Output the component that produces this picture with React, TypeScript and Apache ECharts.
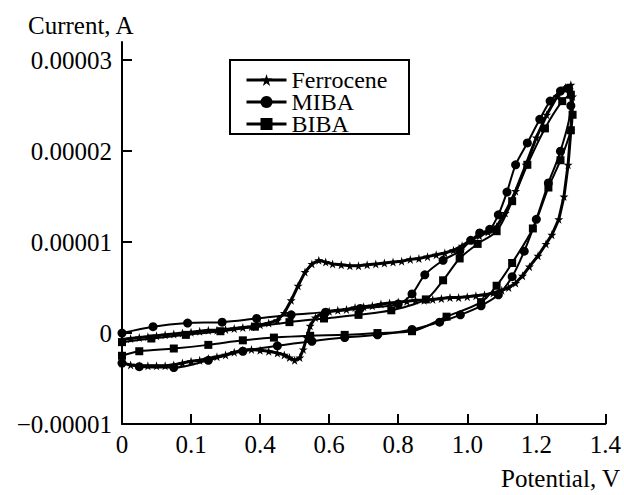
import React, { useEffect, useRef } from "react";
import * as echarts from "echarts";

// ---------- axis ticks ----------
const xTickValues = [0, 0.2, 0.4, 0.6, 0.8, 1.0, 1.2, 1.4];
const xTickLabels = ["0", "0.1", "0.4", "0.6", "0.8", "1.0", "1.2", "1.4"];
const yTickValues = [-1e-5, 0, 1e-5, 2e-5, 3e-5];
const yTickLabels = ["\u22120.00001", "0", "0.00001", "0.00002", "0.00003"];

const seriesNames = ["Ferrocene", "MIBA", "BIBA"];

// ---------- Ferrocene (potential V, current A) ----------
const ferrocenePotential = [
  0.0, 0.025, 0.05, 0.075, 0.1, 0.125, 0.15, 0.175, 0.2, 0.225, 0.25, 0.275, 0.3, 0.325, 0.35, 0.375,
  0.4, 0.425, 0.45, 0.47, 0.49, 0.51, 0.53, 0.55, 0.57, 0.59, 0.61, 0.635, 0.66, 0.685, 0.71, 0.735,
  0.76, 0.785, 0.81, 0.835, 0.86, 0.885, 0.91, 0.935, 0.96, 0.985, 1.01, 1.035, 1.06, 1.085, 1.11,
  1.14, 1.17, 1.2, 1.23, 1.26, 1.285, 1.3,
  1.305, 1.3, 1.292, 1.28, 1.265, 1.245, 1.228, 1.205, 1.18, 1.16, 1.14, 1.12, 1.1, 1.075, 1.05,
  1.025, 1.0, 0.975, 0.95, 0.925, 0.9, 0.875, 0.85, 0.825, 0.8, 0.775, 0.75, 0.725, 0.7, 0.675,
  0.65, 0.625, 0.6, 0.58, 0.56, 0.545, 0.535, 0.525, 0.515, 0.5, 0.485, 0.47, 0.45, 0.425, 0.4,
  0.375, 0.35, 0.325, 0.3, 0.275, 0.25, 0.225, 0.2, 0.175, 0.15, 0.125, 0.1, 0.075, 0.05, 0.025, 0.0,
];
const ferroceneCurrent = [
  -0.07e-5, -0.06e-5, -0.05e-5, -0.04e-5, -0.03e-5, -0.02e-5, -0.01e-5, 0.0, 0.01e-5, 0.02e-5,
  0.03e-5, 0.03e-5, 0.04e-5, 0.05e-5, 0.06e-5, 0.07e-5, 0.09e-5, 0.11e-5, 0.14e-5, 0.22e-5,
  0.36e-5, 0.52e-5, 0.67e-5, 0.76e-5, 0.8e-5, 0.78e-5, 0.76e-5, 0.75e-5, 0.74e-5, 0.74e-5,
  0.75e-5, 0.76e-5, 0.77e-5, 0.78e-5, 0.79e-5, 0.81e-5, 0.82e-5, 0.84e-5, 0.86e-5, 0.88e-5,
  0.91e-5, 0.96e-5, 1.02e-5, 1.07e-5, 1.11e-5, 1.17e-5, 1.32e-5, 1.56e-5, 1.85e-5, 2.15e-5,
  2.4e-5, 2.6e-5, 2.7e-5, 2.73e-5,
  2.6e-5, 2.23e-5, 1.85e-5, 1.5e-5, 1.25e-5, 1.08e-5, 0.98e-5, 0.85e-5, 0.73e-5, 0.63e-5,
  0.55e-5, 0.5e-5, 0.47e-5, 0.44e-5, 0.42e-5, 0.41e-5, 0.4e-5, 0.39e-5, 0.39e-5, 0.38e-5,
  0.37e-5, 0.36e-5, 0.36e-5, 0.35e-5, 0.34e-5, 0.33e-5, 0.32e-5, 0.3e-5, 0.29e-5, 0.28e-5,
  0.26e-5, 0.25e-5, 0.24e-5, 0.22e-5, 0.17e-5, 0.08e-5, -0.05e-5, -0.18e-5, -0.27e-5, -0.3e-5,
  -0.27e-5, -0.24e-5, -0.22e-5, -0.2e-5, -0.19e-5, -0.18e-5, -0.19e-5, -0.21e-5, -0.24e-5,
  -0.26e-5, -0.28e-5, -0.3e-5, -0.31e-5, -0.33e-5, -0.35e-5, -0.36e-5, -0.36e-5, -0.36e-5,
  -0.36e-5, -0.35e-5, -0.33e-5,
];

// ---------- MIBA ----------
const mibaPotential = [
  0.0, 0.09, 0.19, 0.29, 0.39, 0.49, 0.59, 0.69, 0.8, 0.84, 0.877, 0.93, 0.978, 1.01, 1.036, 1.065,
  1.09, 1.115, 1.14, 1.174, 1.21, 1.24, 1.27, 1.29,
  1.3, 1.27, 1.235, 1.2, 1.165, 1.13, 1.09, 1.04, 0.98, 0.92, 0.84, 0.74, 0.645, 0.55, 0.45, 0.35,
  0.25, 0.15, 0.05, 0.0,
];
const mibaCurrent = [
  0.0, 0.07e-5, 0.11e-5, 0.12e-5, 0.16e-5, 0.2e-5, 0.23e-5, 0.27e-5, 0.32e-5, 0.43e-5, 0.64e-5,
  0.8e-5, 0.9e-5, 1.02e-5, 1.1e-5, 1.14e-5, 1.3e-5, 1.55e-5, 1.85e-5, 2.09e-5, 2.35e-5, 2.55e-5,
  2.66e-5, 2.69e-5,
  2.5e-5, 2.0e-5, 1.65e-5, 1.25e-5, 0.9e-5, 0.62e-5, 0.42e-5, 0.3e-5, 0.2e-5, 0.12e-5, 0.04e-5,
  -0.02e-5, -0.05e-5, -0.09e-5, -0.14e-5, -0.2e-5, -0.3e-5, -0.38e-5, -0.37e-5, -0.33e-5,
];

// ---------- BIBA ----------
const bibaPotential = [
  0.0, 0.085, 0.185, 0.285, 0.385, 0.485, 0.585, 0.685, 0.78, 0.88, 0.93, 0.978, 1.03, 1.085, 1.13,
  1.174, 1.225, 1.275, 1.3,
  1.305, 1.3, 1.27, 1.235, 1.19, 1.13, 1.085, 1.04, 0.94, 0.84, 0.74, 0.645, 0.545, 0.44, 0.35, 0.25,
  0.15, 0.05, 0.0,
];
const bibaCurrent = [
  -0.1e-5, -0.06e-5, -0.02e-5, 0.02e-5, 0.07e-5, 0.12e-5, 0.16e-5, 0.2e-5, 0.25e-5, 0.37e-5,
  0.58e-5, 0.82e-5, 0.98e-5, 1.12e-5, 1.45e-5, 1.85e-5, 2.25e-5, 2.55e-5, 2.62e-5,
  2.4e-5, 2.23e-5, 1.9e-5, 1.6e-5, 1.15e-5, 0.77e-5, 0.52e-5, 0.34e-5, 0.18e-5, 0.02e-5, 0.0,
  -0.02e-5, -0.03e-5, -0.05e-5, -0.08e-5, -0.13e-5, -0.17e-5, -0.2e-5, -0.25e-5,
];

const STAR = "path://M50,0 L61,35 L98,35 L68,57 L79,91 L50,70 L21,91 L32,57 L2,35 L39,35 Z";
const FONT = "Liberation Serif, Times New Roman, serif";

export default function App() {
  const ref = useRef<HTMLDivElement>(null);
  useEffect(() => {
    const chart = echarts.init(ref.current as HTMLDivElement, null, { renderer: "svg" });
    const pairs = (xs: number[], ys: number[]) => xs.map((x, i) => [x, ys[i]]);
    const line = (
      name: string,
      symbol: string,
      size: number,
      width: number,
      xs: number[],
      ys: number[],
      smooth: number | boolean
    ) => ({
      name,
      type: "line",
      data: pairs(xs, ys),
      symbol,
      symbolSize: size,
      showSymbol: true,
      smooth,
      lineStyle: { color: "#000", width },
      itemStyle: { color: "#000", borderWidth: 0 },
      emphasis: { disabled: true },
    });
    const labelStyle = { color: "#000", fontSize: 25, fontFamily: FONT, fontWeight: "normal" as const };
    const legendTops = [68, 90, 112];
    const legends = seriesNames.map((name, i) => ({
      data: [name],
      orient: "vertical",
      left: 245,
      top: legendTops[i],
      padding: 0,
      itemGap: 0,
      itemWidth: 40,
      itemHeight: 15,
      selectedMode: false,
      lineStyle: { width: 3, color: "#000" },
      itemStyle: { color: "#000" },
      textStyle: { ...labelStyle, fontSize: 24, lineHeight: 22 },
    }));
    chart.setOption({
      animation: false,
      textStyle: { fontFamily: FONT },
      grid: { left: 122, right: 18, top: 42, bottom: 71, containLabel: false },
      xAxis: {
        type: "value",
        min: 0,
        max: 1.4,
        interval: 0.2,
        axisLine: { onZero: false, lineStyle: { color: "#000", width: 2 } },
        axisTick: { inside: true, length: 10, customValues: xTickValues, lineStyle: { color: "#000", width: 2 } },
        axisLabel: {
          ...labelStyle,
          customValues: xTickValues,
          margin: 8,
          formatter: (v: number) => xTickLabels[xTickValues.findIndex((t) => Math.abs(t - v) < 1e-6)] ?? "",
        },
        splitLine: { show: false },
      },
      yAxis: {
        type: "value",
        min: -1e-5,
        max: 3.2e-5,
        axisLine: { show: true, onZero: false, lineStyle: { color: "#000", width: 2 } },
        axisTick: { show: true, inside: true, length: 10, customValues: yTickValues, lineStyle: { color: "#000", width: 2 } },
        axisLabel: {
          ...labelStyle,
          customValues: yTickValues,
          margin: 10,
          formatter: (v: number) => yTickLabels[yTickValues.findIndex((t) => Math.abs(t - v) < 1e-9)] ?? "",
        },
        splitLine: { show: false },
      },
      legend: legends,
      graphic: [
        {
          type: "rect",
          shape: { x: 230, y: 60, width: 179, height: 74 },
          style: { fill: "none", stroke: "#000", lineWidth: 2 },
          silent: true,
        },
        {
          type: "text",
          x: 28,
          y: 25,
          style: { text: "Current, A", fontSize: 25, fontFamily: FONT, fill: "#000", align: "left", verticalAlign: "middle" },
        },
        {
          type: "text",
          x: 620,
          y: 478,
          style: { text: "Potential, V", fontSize: 25, fontFamily: FONT, fill: "#000", align: "right", verticalAlign: "middle" },
        },
      ],
      series: [
        line(seriesNames[0], STAR, 9, 3, ferrocenePotential, ferroceneCurrent, false),
        line(seriesNames[1], "circle", 9, 2, mibaPotential, mibaCurrent, 0.3),
        line(seriesNames[2], "rect", 8, 2, bibaPotential, bibaCurrent, 0.3),
      ],
    });
    return () => chart.dispose();
  }, []);
  return <div ref={ref} style={{ position: "absolute", left: 0, top: 0, width: 624, height: 495 }} />;
}
